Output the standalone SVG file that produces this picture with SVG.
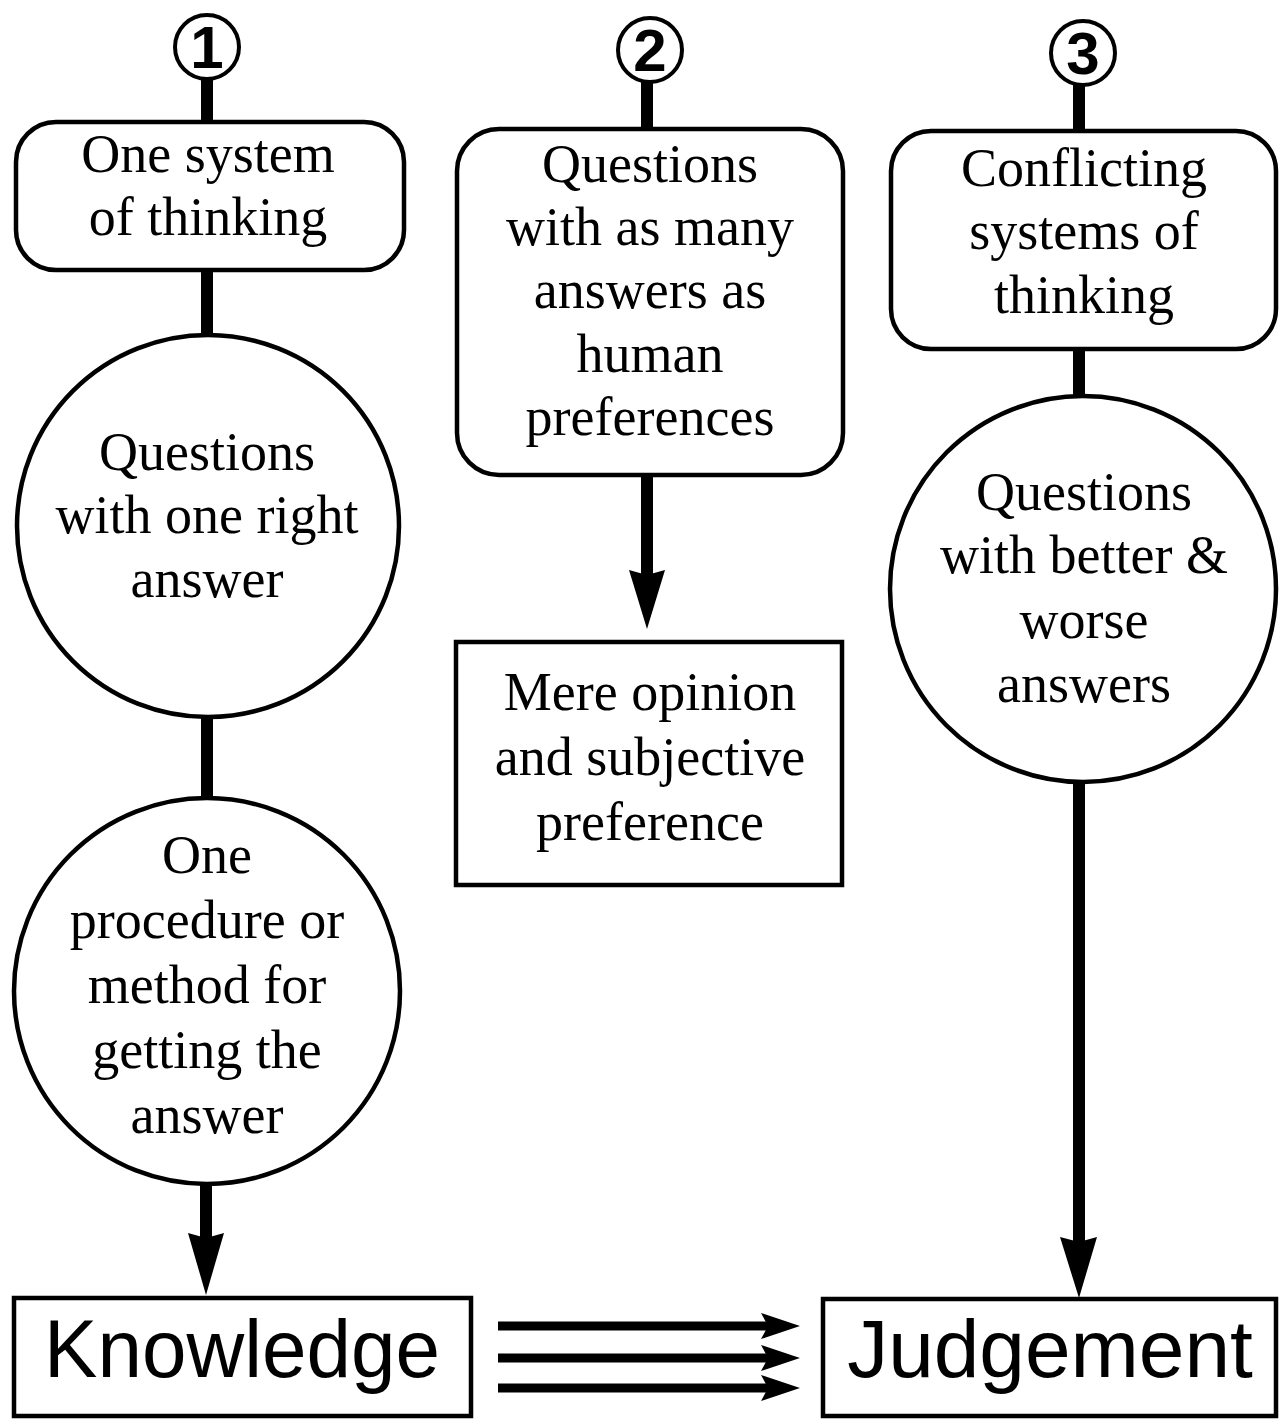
<svg xmlns="http://www.w3.org/2000/svg" width="1280" height="1420" viewBox="0 0 1280 1420">
<style>
.shape{fill:#fff;stroke:#000;stroke-width:4.5}
.num{fill:#fff;stroke:#000;stroke-width:4}
.lbl{font-family:"Liberation Serif","Times New Roman",serif;font-size:54px;fill:#000;text-anchor:middle}
.big{font-family:"Liberation Sans",Arial,sans-serif;font-size:82px;fill:#000;text-anchor:middle}
.digit{font-family:"Liberation Sans",Arial,sans-serif;font-size:60px;font-weight:bold;fill:#000;text-anchor:middle}
.bar{stroke:#000;stroke-width:12;fill:none}
.hbar{stroke:#000;stroke-width:9;fill:none}
.head{fill:#000}
</style>
<rect width="1280" height="1420" fill="#fff"/>
<g id="connectors">
<line class="bar" x1="207" y1="78" x2="207" y2="124"/>
<line class="bar" x1="207" y1="268" x2="207" y2="337"/>
<line class="bar" x1="207" y1="715" x2="207" y2="799"/>
<line class="bar" x1="206" y1="1183" x2="206" y2="1240"/>
<polygon class="head" points="188,1233 206,1238 224,1233 206,1295"/>
<line class="bar" x1="647" y1="81" x2="647" y2="130"/>
<line class="bar" x1="647" y1="474" x2="647" y2="578"/>
<polygon class="head" points="629,570 647,575 665,570 647,629"/>
<line class="bar" x1="1079" y1="84" x2="1079" y2="132"/>
<line class="bar" x1="1079" y1="348" x2="1079" y2="399"/>
<line class="bar" x1="1079" y1="780" x2="1079" y2="1244"/>
<polygon class="head" points="1060,1237 1079,1242 1097,1237 1079,1298"/>
<line class="hbar" x1="498" y1="1326" x2="770" y2="1326"/>
<polygon class="head" points="761,1313 768,1326 761,1339 800,1326"/>
<line class="hbar" x1="498" y1="1358" x2="770" y2="1358"/>
<polygon class="head" points="761,1345 768,1358 761,1371 800,1358"/>
<line class="hbar" x1="498" y1="1388" x2="770" y2="1388"/>
<polygon class="head" points="761,1375 768,1388 761,1401 800,1388"/>
</g>
<g id="num1">
<circle class="num" cx="207" cy="47" r="32"/>
<text class="digit" x="207" y="68">1</text>
</g>
<g id="num2">
<circle class="num" cx="650" cy="50" r="32"/>
<text class="digit" x="650" y="71">2</text>
</g>
<g id="num3">
<circle class="num" cx="1083" cy="53" r="32"/>
<text class="digit" x="1083" y="74">3</text>
</g>
<g id="box1">
<rect class="shape" x="16" y="122" width="388" height="148" rx="40" ry="40"/>
<text class="lbl" x="208" y="172">One system</text>
<text class="lbl" x="208" y="235">of thinking</text>
</g>
<g id="circle1">
<circle class="shape" cx="208" cy="526" r="191"/>
<text class="lbl" x="207" y="470">Questions</text>
<text class="lbl" x="207" y="533">with one right</text>
<text class="lbl" x="207" y="597">answer</text>
</g>
<g id="circle2">
<circle class="shape" cx="207" cy="991" r="193"/>
<text class="lbl" x="207" y="873">One</text>
<text class="lbl" x="207" y="938">procedure or</text>
<text class="lbl" x="207" y="1003">method for</text>
<text class="lbl" x="207" y="1068">getting the</text>
<text class="lbl" x="207" y="1133">answer</text>
</g>
<g id="box2">
<rect class="shape" x="457" y="129" width="386" height="346" rx="42" ry="42"/>
<text class="lbl" x="650" y="182">Questions</text>
<text class="lbl" x="650" y="245">with as many</text>
<text class="lbl" x="650" y="308">answers as</text>
<text class="lbl" x="650" y="372">human</text>
<text class="lbl" x="650" y="435">preferences</text>
</g>
<g id="box2b">
<rect class="shape" x="456" y="642" width="386" height="243"/>
<text class="lbl" x="650" y="710">Mere opinion</text>
<text class="lbl" x="650" y="775">and subjective</text>
<text class="lbl" x="650" y="840">preference</text>
</g>
<g id="box3">
<rect class="shape" x="891" y="131" width="385" height="218" rx="40" ry="40"/>
<text class="lbl" x="1084" y="186">Conflicting</text>
<text class="lbl" x="1084" y="249">systems of</text>
<text class="lbl" x="1084" y="313">thinking</text>
</g>
<g id="circle3">
<circle class="shape" cx="1083" cy="589" r="193"/>
<text class="lbl" x="1084" y="510">Questions</text>
<text class="lbl" x="1084" y="573">with better &amp;</text>
<text class="lbl" x="1084" y="638">worse</text>
<text class="lbl" x="1084" y="702">answers</text>
</g>
<g id="knowledge">
<rect class="shape" x="14" y="1298" width="457" height="118"/>
<text class="big" x="242" y="1377" textLength="396" lengthAdjust="spacingAndGlyphs">Knowledge</text>
</g>
<g id="judgement">
<rect class="shape" x="823" y="1299" width="453" height="117"/>
<text class="big" x="1050" y="1377">Judgement</text>
</g>
</svg>
